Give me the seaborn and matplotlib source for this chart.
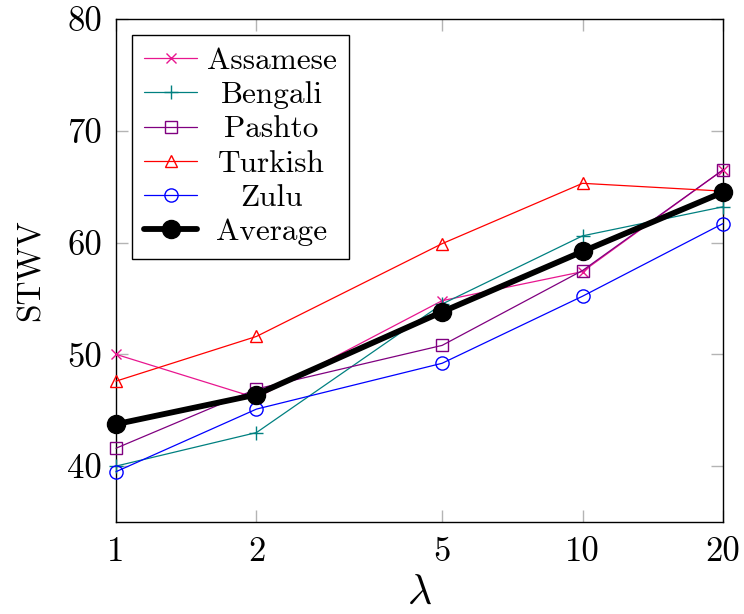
import matplotlib
matplotlib.use("Agg")
import matplotlib.pyplot as plt
import seaborn as sns
import pandas as pd
from matplotlib.ticker import FixedLocator, FixedFormatter, NullLocator

lambdas = [1, 2, 5, 10, 20]
assamese = [50.0, 46.1, 54.8, 57.4, 66.5]
bengali = [40.0, 43.0, 54.5, 60.6, 63.2]
pashto = [41.6, 46.9, 50.8, 57.5, 66.5]
turkish = [47.6, 51.6, 59.9, 65.3, 64.6]
zulu = [39.5, 45.1, 49.2, 55.2, 61.7]
average = [43.75, 46.4, 53.8, 59.2, 64.5]

series = {
    "Assamese": assamese,
    "Bengali": bengali,
    "Pashto": pashto,
    "Turkish": turkish,
    "Zulu": zulu,
    "Average": average,
}
xticks = [1, 2, 5, 10, 20]
xticklabels = ["1", "2", "5", "10", "20"]
yticks = [40, 50, 60, 70, 80]
yticklabels = ["40", "50", "60", "70", "80"]

styles = {
    "Assamese": dict(color="#e8168f", marker="x", ms=7, mfc="none", lw=0.9, mew=1.0),
    "Bengali": dict(color="#008080", marker="+", ms=10, mfc="none", lw=0.9, mew=1.0),
    "Pashto": dict(color="#800080", marker="s", ms=9, mfc="none", lw=0.9, mew=1.0),
    "Turkish": dict(color="#ff0000", marker="^", ms=9, mfc="none", lw=0.9, mew=1.0),
    "Zulu": dict(color="#0000ff", marker="o", ms=9.5, mfc="none", lw=0.9, mew=1.0),
    "Average": dict(color="black", marker="o", ms=13, mfc="black", lw=4.2, mew=1.0),
}

sns.set_theme(style="white")
plt.rcParams["font.family"] = ["cmr10", "DejaVu Serif"]
plt.rcParams["mathtext.fontset"] = "cm"
plt.rcParams["axes.formatter.use_mathtext"] = True
plt.rcParams["text.color"] = "black"
plt.rcParams["axes.labelcolor"] = "black"
plt.rcParams["xtick.labelcolor"] = "black"
plt.rcParams["ytick.labelcolor"] = "black"

fig = plt.figure(figsize=(7.44, 6.14), dpi=100)
ax = fig.add_axes([116 / 744, 1 - 522 / 614, (723 - 116) / 744, (522 - 19) / 614])

for name, vals in series.items():
    df = pd.DataFrame({"lam": lambdas, "val": vals})
    st = styles[name]
    sns.lineplot(data=df, x="lam", y="val", ax=ax, color=st["color"], marker=st["marker"],
                 markersize=st["ms"], markerfacecolor=st["mfc"], markeredgecolor=st["color"],
                 markeredgewidth=st["mew"], linewidth=st["lw"], label=name, clip_on=False,
                 zorder=3 if name != "Average" else 4)

ax.set_xscale("log")
ax.set_xlim(1, 20)
ax.set_ylim(35, 80)
ax.xaxis.set_major_locator(FixedLocator(xticks))
ax.xaxis.set_major_formatter(FixedFormatter(xticklabels))
ax.xaxis.set_minor_locator(NullLocator())
ax.yaxis.set_major_locator(FixedLocator(yticks))
ax.yaxis.set_major_formatter(FixedFormatter(yticklabels))

ax.tick_params(axis="both", which="major", direction="in", length=8.5, width=1.0, color="#b4b4b4",
               labelsize=25, top=True, right=True, bottom=True, left=True, pad=10)
for sp in ax.spines.values():
    sp.set_color("black")
    sp.set_linewidth(1.0)

ax.set_xlabel(r"$\lambda$", fontsize=30, labelpad=5)
ax.set_ylabel("STWV", fontsize=24, labelpad=16)

leg = ax.legend(loc="upper left", fontsize=22.5, frameon=True, fancybox=False, edgecolor="black",
                framealpha=1, borderpad=0.4, labelspacing=0.2, handlelength=1.7, handletextpad=0.3,
                borderaxespad=0.5)
leg.get_frame().set_linewidth(1.0)

fig.canvas.draw()
r = fig.canvas.get_renderer()
texts = leg.get_texts()
widths = [t.get_window_extent(r).width for t in texts]
W = max(widths)
for t, w in zip(texts, widths):
    t.set_x((W - w) / 2)

fig.savefig("out.png", dpi=100)
